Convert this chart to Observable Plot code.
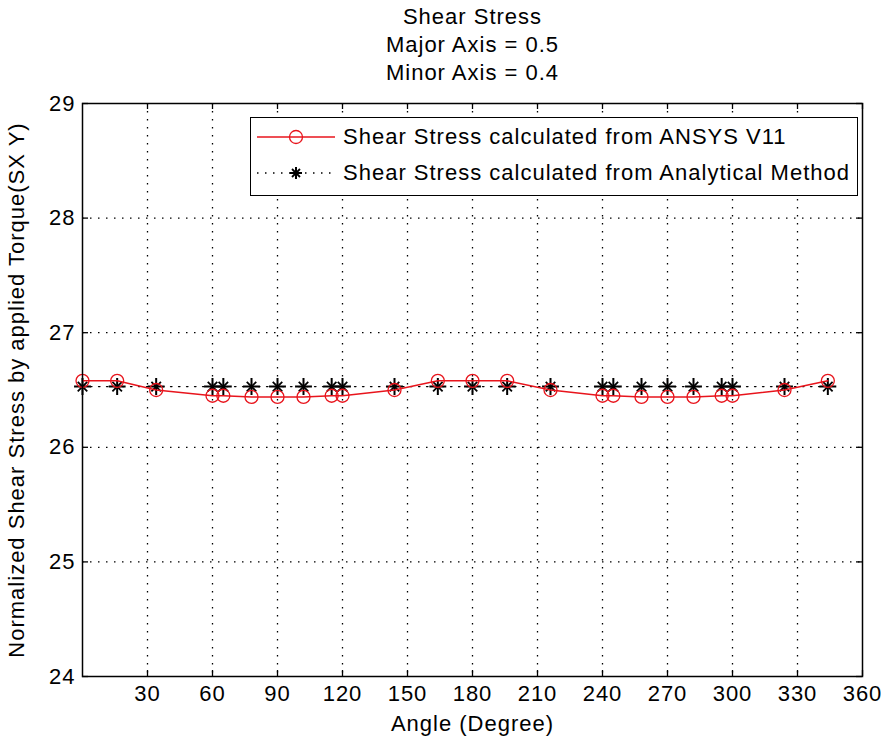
<!DOCTYPE html>
<html>
<head>
<meta charset="utf-8">
<script src="https://cdn.jsdelivr.net/npm/d3@7"></script>
<script src="https://cdn.jsdelivr.net/npm/@observablehq/plot@0.6"></script>
<style>
  html, body { margin: 0; padding: 0; background: #fff; }
  #wrap { position: relative; width: 884px; height: 747px; font-family: "Liberation Sans", Arial, sans-serif; }
  #wrap svg text { letter-spacing: 1px; }
  #legend { position: absolute; left: 250px; top: 117px; width: 606px; height: 77px; border: 1.5px solid #000; background: #fff; font-size: 22px; letter-spacing: 1px; }
  .row { position: absolute; left: 0; height: 30px; display: flex; align-items: center; white-space: nowrap; }
  .row svg { margin-left: 6px; margin-right: 8px; }
</style>
</head>
<body>
<div id="wrap"></div>
<script>
// Data
const titleLines = ["Shear Stress", "Major Axis = 0.5", "Minor Axis = 0.4"];
const angles = [0, 16, 34, 60, 65, 78, 90, 102, 115, 120, 144, 164, 180, 196, 216, 240, 245, 258, 270, 282, 295, 300, 324, 344];
const ansys = [26.58, 26.58, 26.50, 26.45, 26.45, 26.44, 26.44, 26.44, 26.45, 26.45, 26.50, 26.58, 26.58, 26.58, 26.50, 26.45, 26.45, 26.44, 26.44, 26.44, 26.45, 26.45, 26.50, 26.58];
const analytical = [26.53, 26.53, 26.53, 26.53, 26.53, 26.53, 26.53, 26.53, 26.53, 26.53, 26.53, 26.53, 26.53, 26.53, 26.53, 26.53, 26.53, 26.53, 26.53, 26.53, 26.53, 26.53, 26.53, 26.53];
const xTicks = [30, 60, 90, 120, 150, 180, 210, 240, 270, 300, 330, 360];
const yTicks = [24, 25, 26, 27, 28, 29];
const seriesNames = ["Shear Stress calculated from ANSYS V11", "Shear Stress calculated from Analytical Method"];
const xLabel = "Angle (Degree)";
const yLabel = "Normalized Shear Stress by applied Torque(SX Y)";

const ansysData = angles.map((a, i) => ({angle: a, value: ansys[i]}));
const analyticalData = angles.map((a, i) => ({angle: a, value: analytical[i]}));

const W = 884, H = 747, mL = 82, mR = 22, mT = 103, mB = 71;
const frameH = H - mT - mB, frameW = W - mL - mR;
const tickLen = 6;
const dots = "1.5,6.5";

const chart = Plot.plot({
  width: W, height: H,
  marginLeft: mL, marginRight: mR, marginTop: mT, marginBottom: mB,
  x: {domain: [0, 360]},
  y: {domain: [24, 29]},
  style: {fontFamily: "Liberation Sans, Arial, sans-serif", fontSize: "22px", background: "#fff", color: "#000", overflow: "visible"},
  marks: [
    Plot.gridX(xTicks.filter(d => d < 360), {stroke: "#000", strokeOpacity: 1, strokeWidth: 1.3, strokeDasharray: dots}),
    Plot.gridY(yTicks.filter(d => d > 24 && d < 29), {stroke: "#000", strokeOpacity: 1, strokeWidth: 1.3, strokeDasharray: dots}),
    // inward ticks on all four sides
    Plot.tickX(xTicks, {x: d => d, insetTop: frameH - tickLen, stroke: "#000", strokeWidth: 1.3}),
    Plot.tickX(xTicks, {x: d => d, insetBottom: frameH - tickLen, stroke: "#000", strokeWidth: 1.3}),
    Plot.tickY(yTicks, {y: d => d, insetRight: frameW - tickLen, stroke: "#000", strokeWidth: 1.3}),
    Plot.tickY(yTicks, {y: d => d, insetLeft: frameW - tickLen, stroke: "#000", strokeWidth: 1.3}),
    // Analytical (dotted black with asterisks)
    Plot.line(analyticalData, {x: "angle", y: "value", stroke: "#000", strokeWidth: 1.3, strokeDasharray: dots}),
    Plot.dot(analyticalData, {x: "angle", y: "value", symbol: "plus", r: 5.5, stroke: "#000", strokeWidth: 2}),
    Plot.dot(analyticalData, {x: "angle", y: "value", symbol: "times", r: 4.4, stroke: "#000", strokeWidth: 1.8}),
    // ANSYS (red with open circles)
    Plot.line(ansysData, {x: "angle", y: "value", stroke: "#e8141c", strokeWidth: 1.5}),
    Plot.dot(ansysData, {x: "angle", y: "value", symbol: "circle", r: 6.5, stroke: "#e8141c", strokeWidth: 1.3, fill: "none"}),
    Plot.frame({stroke: "#000", strokeWidth: 1.5}),
    Plot.axisX(xTicks, {tickSize: 0, tickPadding: 9, tickFormat: d => String(d), label: xLabel, labelAnchor: "center", labelOffset: 54, labelArrow: false}),
    Plot.axisY(yTicks, {tickSize: 0, tickPadding: 7, tickFormat: d => String(d), label: yLabel, labelAnchor: "center", labelOffset: 74, labelArrow: false}),
    Plot.text([titleLines.join("\n")], {frameAnchor: "top", dy: -99, lineAnchor: "top", lineHeight: 1.27, fontSize: 22, fill: "#000"})
  ]
});

const wrap = document.getElementById("wrap");
wrap.appendChild(chart);

// Legend
const legend = document.createElement("div");
legend.id = "legend";
const sample = (kind) => {
  if (kind === 0) {
    return `<svg width="78" height="20"><line x1="0" y1="10" x2="78" y2="10" stroke="#e8141c" stroke-width="1.5"/><circle cx="39" cy="10" r="6.5" fill="none" stroke="#e8141c" stroke-width="1.3"/></svg>`;
  }
  return `<svg width="78" height="20"><line x1="0" y1="10" x2="78" y2="10" stroke="#000" stroke-width="1.3" stroke-dasharray="${dots}"/>
    <line x1="39" y1="4" x2="39" y2="16" stroke="#000" stroke-width="2"/><line x1="33" y1="10" x2="45" y2="10" stroke="#000" stroke-width="2"/>
    <line x1="35" y1="6" x2="43" y2="14" stroke="#000" stroke-width="1.8"/><line x1="35" y1="14" x2="43" y2="6" stroke="#000" stroke-width="1.8"/></svg>`;
};
seriesNames.forEach((name, i) => {
  const row = document.createElement("div");
  row.className = "row";
  row.style.top = (i === 0 ? 4 : 40) + "px";
  row.innerHTML = sample(i) + `<span>${name}</span>`;
  legend.appendChild(row);
});
wrap.appendChild(legend);
</script>
</body>
</html>
